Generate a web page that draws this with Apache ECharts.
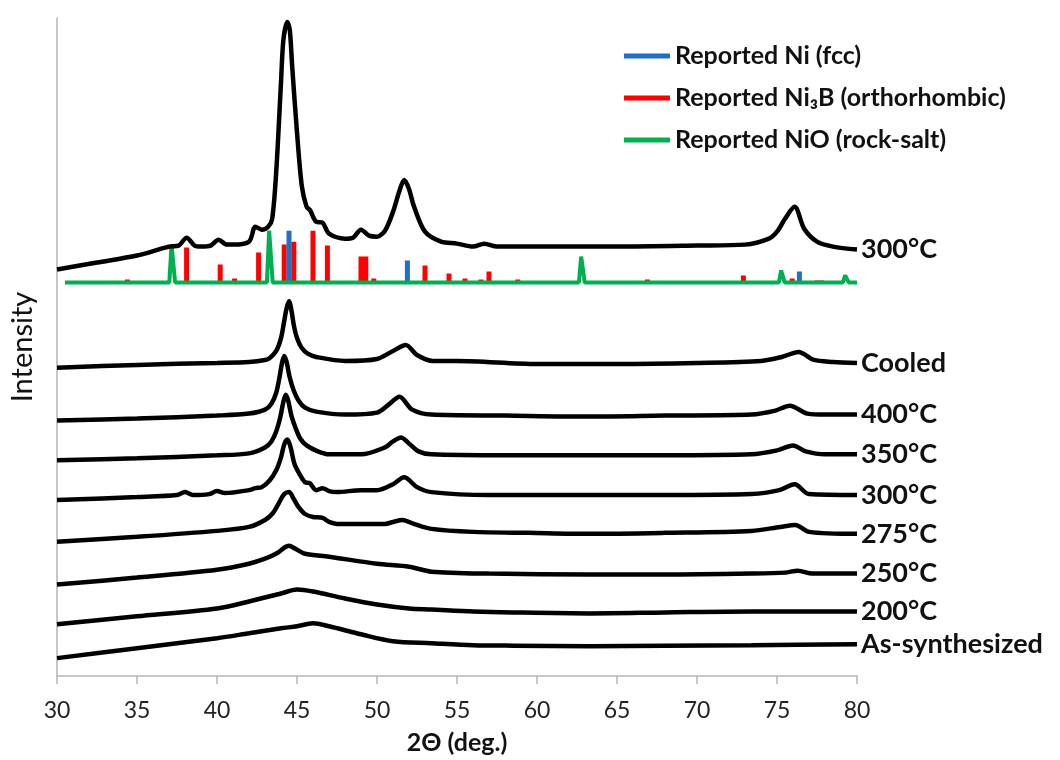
<!DOCTYPE html>
<html>
<head>
<meta charset="utf-8">
<script src="https://cdn.jsdelivr.net/npm/echarts@6/dist/echarts.min.js"></script>
<style>html,body{margin:0;padding:0;background:#fff;}#c{width:1060px;height:760px;}</style>
</head>
<body>
<div id="c"></div>
<script>
// ---- Data (2θ in degrees, intensity in arbitrary offset units) ----
const curveNames = ['300°C', 'Cooled', '400°C', '350°C', '300°C', '275°C', '250°C', '200°C', 'As-synthesized'];

const top300 = [[30,409],[32.5,416],[35,423],[37,432],[37.6,433],[38.1,441],[38.6,433],[39,432],[39.6,433],[40.1,439],[40.6,434],[41,434],[42,437],[42.4,452],[42.8,449],[43.2,452],[43.45,460],[43.7,507],[44.0,597],[44.15,640],[44.4,658],[44.55,650],[44.7,613],[45.0,547],[45.3,493],[45.6,472],[45.8,469],[46.2,457],[46.6,456],[47,445],[48,440],[48.5,441],[49,449],[49.5,443],[50,442],[50.5,448],[51,467],[51.4,488],[51.7,499],[52.0,490],[52.3,473],[53,447],[54,437],[55,435],[56,432],[56.7,435],[57.5,432],[60,432],[65,432],[70,433],[73,434],[74.5,440],[75,447],[75.5,460],[76.1,472],[76.7,450],[77.5,437],[78.5,432],[80,429]];
const cooled = [[30,310],[35,313],[40,315],[42,316],[43,318],[43.3,320],[43.7,327],[44.0,340],[44.2,357],[44.35,370],[44.5,377],[44.65,368],[44.8,353],[45.0,340],[45.3,330],[45.7,324],[46.2,321],[48,317],[50,319],[51,327],[51.8,333],[52.5,323],[53.5,317],[55,317],[60,314],[65,314],[70,315],[74,317],[75.3,321],[76.35,326],[77.3,318],[78.5,316],[80,315]];
const c400 = [[30,257],[35,259],[40,262],[42,264],[43,268],[43.4,274],[43.7,285],[43.9,300],[44.05,314],[44.2,322],[44.35,316],[44.55,300],[44.8,287],[45.1,277],[45.5,270],[46.2,266],[48,263],[50,265],[50.8,274],[51.4,281],[52.2,268],[53.4,263],[58,262],[63.3,261],[68,262],[73.4,263],[74.9,267],[75.8,272],[76.9,264],[78,263],[80,263]];
const c350 = [[30,217],[35,219],[40,222],[42,224],[43,230],[43.4,236],[43.7,246],[43.95,260],[44.15,276],[44.3,283],[44.45,277],[44.65,262],[44.9,250],[45.2,239],[45.6,232],[46.3,226],[47,223],[49,223],[50.5,230],[51,236],[51.5,240],[52,234],[52.6,226],[53.4,223],[58,222],[63.3,222],[68,222],[73.4,223],[75,227],[76.0,232],[76.8,226],[78,223],[80,223]];
const c300 = [[30,177],[35,180],[37.5,182],[38.0,185],[38.5,182],[39.5,183],[40.0,186],[40.5,184],[42,187],[42.4,189],[42.8,190],[43.3,197],[43.7,207],[44.0,220],[44.2,233],[44.4,238],[44.6,230],[44.85,213],[45.2,202],[45.5,195],[45.8,194],[46.2,187],[46.6,189],[47.0,186],[47.5,185],[49,187],[50,187],[51,193],[51.7,200],[52.5,190],[53.4,185],[57,182],[63.3,182],[68,182],[73.4,183],[75.15,187],[76.1,193],[77,183],[80,182]];
const c275 = [[30,135],[35,140],[40,146],[42,150],[43,157],[43.5,164],[43.9,175],[44.2,183],[44.5,185],[44.8,178],[45.1,170],[45.5,163],[46,160],[46.6,159],[47.0,155],[47.5,153],[49,153],[50.5,153],[51.0,155],[51.6,157],[52.3,153],[53.4,148],[56,145],[59.5,144],[63.3,143],[68,144],[73.4,146],[75.2,150],[76.15,152],[77,145],[80,143]];
const c250 = [[30,92],[35,99],[40,107],[42,113],[43,118],[43.8,124],[44.2,129],[44.5,131],[44.9,128],[45.5,123],[47,120],[50,113],[52,110],[53.4,105],[57,103],[63.3,102],[68,102],[73.4,103],[75.5,104],[76.3,106],[77.2,103],[80,103]];
const c200 = [[30,52],[35,60],[40,68],[42,75],[44,83],[45,87],[46,85],[48,78],[50,72],[52,68],[53.4,67],[56,65],[58.5,64],[63.3,63],[68,64],[73.4,65],[80,65]];
const asSynth = [[30,18],[35,28],[40,38],[42,43],[44,48],[45,50],[46,53],[47,50],[49,42],[51,35],[53.4,33],[56,31],[58.5,30.5],[63.3,30],[68,30.5],[73.4,31],[80,32]];

// Reference patterns (peak position, peak height above the pattern baseline)
const refBase = 396;
const refRange = [30.5, 80];
const niPos  = [44.5, 51.9, 76.4];
const niInt  = [52, 22, 11];
const ni3bPos = [34.4, 38.1, 40.2, 41.1, 42.6, 44.2, 44.8, 46.0, 46.9, 49.0, 49.3, 49.8, 53.0, 54.5, 55.5, 56.5, 57.0, 58.8, 66.9, 72.9, 75.95, 77.5, 77.8];
const ni3bInt = [3, 35, 18, 4, 30, 38, 41, 52, 37, 26, 26, 4, 17, 9, 4, 3, 11, 3, 3, 7, 4, 2, 2];
const nioPos = [37.2, 43.3, 62.8, 75.3, 79.3];
const nioInt = [38, 52, 26, 12, 7];

const refNames = ['Reported Ni (fcc)', 'Reported Ni₃B (orthorhombic)', 'Reported NiO (rock-salt)'];
const refColors = ['#1f6fc5', '#ff0000', '#00b050'];

// ---- build ----
function sticks(pos, hts) {
  const d = [];
  pos.forEach((p, i) => { d.push([p, refBase]); d.push([p, refBase + hts[i]]); d.push([p, '-']); });
  return d;
}
function profile(pos, hts) {
  const d = [[refRange[0], refBase]];
  pos.forEach((p, i) => {
    d.push([p - 0.18, refBase]); d.push([p - 0.04, refBase + hts[i]]); d.push([p + 0.04, refBase + hts[i]]); d.push([p + 0.18, refBase]);
  });
  d.push([refRange[1], refBase]);
  return d;
}

const curves = [top300, cooled, c400, c350, c300, c275, c250, c200, asSynth];
const labelFont = 'Lato';

const series = [
  { name: refNames[1], type: 'line', data: sticks(ni3bPos, ni3bInt), symbol: 'none', lineStyle: { color: refColors[1], width: 5, cap: 'butt' }, itemStyle: { color: refColors[1] }, connectNulls: false, z: 3 },
  { name: refNames[0], type: 'line', data: sticks(niPos, niInt), symbol: 'none', lineStyle: { color: refColors[0], width: 5, cap: 'butt' }, itemStyle: { color: refColors[0] }, connectNulls: false, z: 4 },
  { name: refNames[2], type: 'line', data: profile(nioPos, nioInt), symbol: 'none', lineStyle: { color: refColors[2], width: 4 }, itemStyle: { color: refColors[2] }, z: 5 }
];
curves.forEach((c, i) => {
  series.push({
    name: curveNames[i], type: 'line', data: c, symbol: 'none', smooth: 0.3,
    lineStyle: { color: '#000', width: 4.5 }, itemStyle: { color: '#000' }, z: 6,
    endLabel: { show: true, formatter: curveNames[i], color: '#111', fontFamily: labelFont, fontWeight: 'bold', fontSize: 27, distance: 4 }
  });
});

const chart = echarts.init(document.getElementById('c'), null, { renderer: 'canvas' });
chart.setOption({
  animation: false,
  backgroundColor: '#fff',
  grid: { left: 55, right: 203, top: 18, bottom: 80, containLabel: false },
  legend: {
    data: refNames, orient: 'vertical', left: 619, top: 36, icon: 'rect', itemWidth: 46, itemHeight: 5, itemGap: 12,
    textStyle: { fontFamily: labelFont, fontWeight: 'bold', fontSize: 25, color: '#111', lineHeight: 30 }
  },
  xAxis: {
    type: 'value', min: 30, max: 80, interval: 5,
    name: '2Θ (deg.)', nameLocation: 'middle', nameGap: 54,
    nameTextStyle: { fontFamily: labelFont, fontWeight: 'bold', fontSize: 25, color: '#111' },
    axisLine: { show: true, lineStyle: { color: '#b5b5b5', width: 1.5 } },
    axisTick: { show: true, length: 8, lineStyle: { color: '#b5b5b5', width: 1.5 } },
    axisLabel: { fontFamily: labelFont, fontSize: 23, color: '#222', margin: 23 },
    splitLine: { show: false }
  },
  yAxis: {
    type: 'value', min: 0, max: 662,
    name: 'Intensity', nameLocation: 'middle', nameGap: 20, nameRotate: 90,
    nameTextStyle: { fontFamily: labelFont, fontSize: 29, color: '#111' },
    axisLine: { show: true, lineStyle: { color: '#b5b5b5', width: 1.5 } },
    axisTick: { show: false }, axisLabel: { show: false }, splitLine: { show: false }
  },
  series: series
});
</script>
</body>
</html>
